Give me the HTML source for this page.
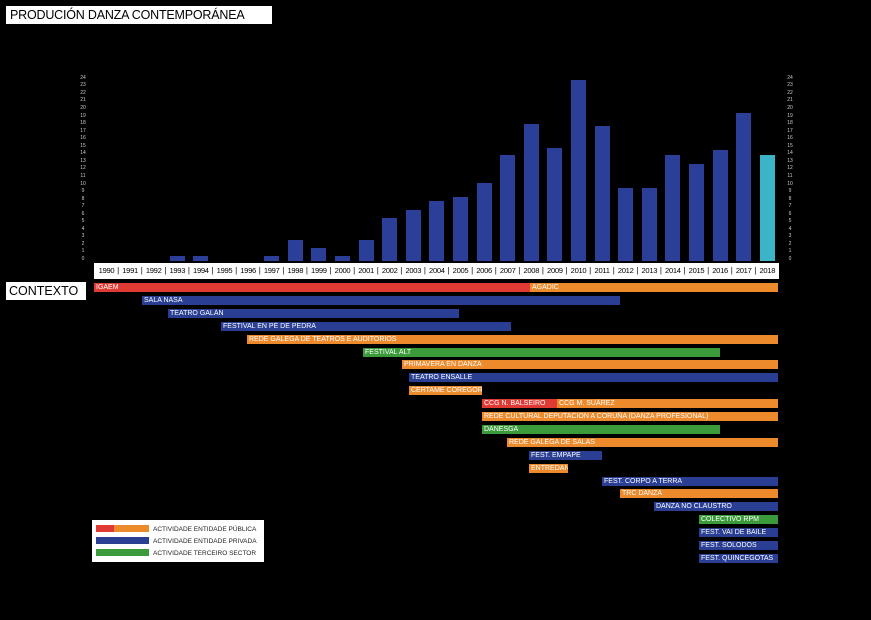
<!DOCTYPE html>
<html><head><meta charset="utf-8"><style>
body{margin:0;width:871px;height:620px;background:#000;position:relative;overflow:hidden;font-family:"Liberation Sans",sans-serif}
.a{position:absolute}
.bar{position:absolute;width:15px;background:#2b3f98}
.r{position:absolute;height:9px;color:#fff;font-size:7px;line-height:9px;padding-left:2px;box-sizing:border-box;white-space:nowrap;overflow:hidden}
.R{background:#e03a35}.O{background:#ec8a2c}.B{background:#2a3f93}.G{background:#3b9a3a}
.tk{position:absolute;color:#ccc;font-size:5px;line-height:7.55px;text-align:center;width:10px}
.yr{position:absolute;top:263px;height:16px;line-height:16px;font-size:7.6px;color:#000;text-align:center;width:24px;letter-spacing:-0.3px}
.sp{position:absolute;top:263px;height:16px;line-height:16px;font-size:8px;color:#000}
</style></head><body>
<div class="a" style="left:6px;top:6px;width:266px;height:18px;background:#fff;color:#000;font-size:12.5px;line-height:18px;padding-left:4px;box-sizing:border-box;white-space:nowrap;letter-spacing:-0.2px">PRODUCIÓN DANZA CONTEMPORÁNEA</div>
<div class="a" style="left:6px;top:282px;width:80px;height:18px;background:#fff;color:#000;font-size:12.5px;line-height:18px;padding-left:3px;box-sizing:border-box;white-space:nowrap">CONTEXTO</div>
<div id="bars"></div>
<div class="a" style="left:94px;top:263px;width:685px;height:16px;background:#fff"></div>
<div id="yrs"></div>
<div id="rows"></div>
<div class="a" style="left:92px;top:520px;width:172px;height:42px;background:#fff"></div>
<div class="a R" style="left:96px;top:525px;width:18px;height:7px"></div><div class="a O" style="left:114px;top:525px;width:35px;height:7px"></div>
<div class="a B" style="left:96px;top:537px;width:53px;height:7px"></div>
<div class="a G" style="left:96px;top:549px;width:53px;height:7px"></div>
<div class="a" style="left:153px;top:524px;font-size:6.5px;color:#222;line-height:12px">ACTIVIDADE ENTIDADE PÚBLICA<br>ACTIVIDADE ENTIDADE PRIVADA<br>ACTIVIDADE TERCEIRO SECTOR</div>
<script>
var tops={1993:256,1994:256,1997:256,1998:240,1999:248,2000:256,2001:240,2002:218,2003:210,2004:201,2005:197,2006:183,2007:155,2008:124,2009:148,2010:80,2011:126,2012:188,2013:188,2014:155,2015:164,2016:150,2017:113,2018:155};
var h='';
for(var y in tops){var cx=106.5+(y-1990)*23.6;h+='<div class="bar" style="left:'+(cx-7.5)+'px;top:'+tops[y]+'px;height:'+(261-tops[y])+'px;'+(y==2018?'background:#3bb4c8':'')+'"></div>';}
for(var i=0;i<=24;i++){var t=261-i*7.55-5;h+='<div class="tk" style="left:78px;top:'+t+'px">'+i+'</div><div class="tk" style="left:785px;top:'+t+'px">'+i+'</div>';}
document.getElementById('bars').innerHTML=h;
h='';
for(var y=1990;y<=2018;y++){var cx=106.5+(y-1990)*23.6;h+='<div class="yr" style="left:'+(cx-12)+'px">'+y+'</div>';if(y<2018)h+='<div class="sp" style="left:'+(cx+10.6)+'px">|</div>';}
document.getElementById('yrs').innerHTML=h;
var rows=[
[[94,530,'R','IGAEM'],[530,778,'O','AGADIC']],
[[142,620,'B','SALA NASA']],
[[168,459,'B','TEATRO GALÁN']],
[[221,511,'B','FESTIVAL EN PÉ DE PEDRA']],
[[247,778,'O','REDE GALEGA DE TEATROS E AUDITORIOS']],
[[363,720,'G','FESTIVAL ALT']],
[[402,778,'O','PRIMAVERA EN DANZA']],
[[409,778,'B','TEATRO ENSALLE']],
[[409,482,'O','CERTAME COREGOR']],
[[482,557,'R','CCG N. BALSEIRO'],[557,778,'O','CCG M. SUÁREZ']],
[[482,778,'O','REDE CULTURAL DEPUTACIÓN A CORUÑA (DANZA PROFESIONAL)']],
[[482,720,'G','DANESGA']],
[[507,778,'O','REDE GALEGA DE SALAS']],
[[529,602,'B','FEST. EMPAPE']],
[[529,568,'O','ENTREDANZAS']],
[[602,778,'B','FEST. CORPO A TERRA']],
[[620,778,'O','TRC DANZA']],
[[654,778,'B','DANZA NO CLAUSTRO']],
[[699,778,'G','COLECTIVO RPM']],
[[699,778,'B','FEST. VAI DE BAILE']],
[[699,778,'B','FEST. SÓLODOS']],
[[699,778,'B','FEST. QUINCEGOTAS']]];
h='';
rows.forEach(function(r,i){var t=283+i*12.9;r.forEach(function(s){h+='<div class="r '+s[2]+'" style="left:'+s[0]+'px;top:'+t+'px;width:'+(s[1]-s[0])+'px">'+s[3]+'</div>';});});
document.getElementById('rows').innerHTML=h;
</script>
</body></html>
